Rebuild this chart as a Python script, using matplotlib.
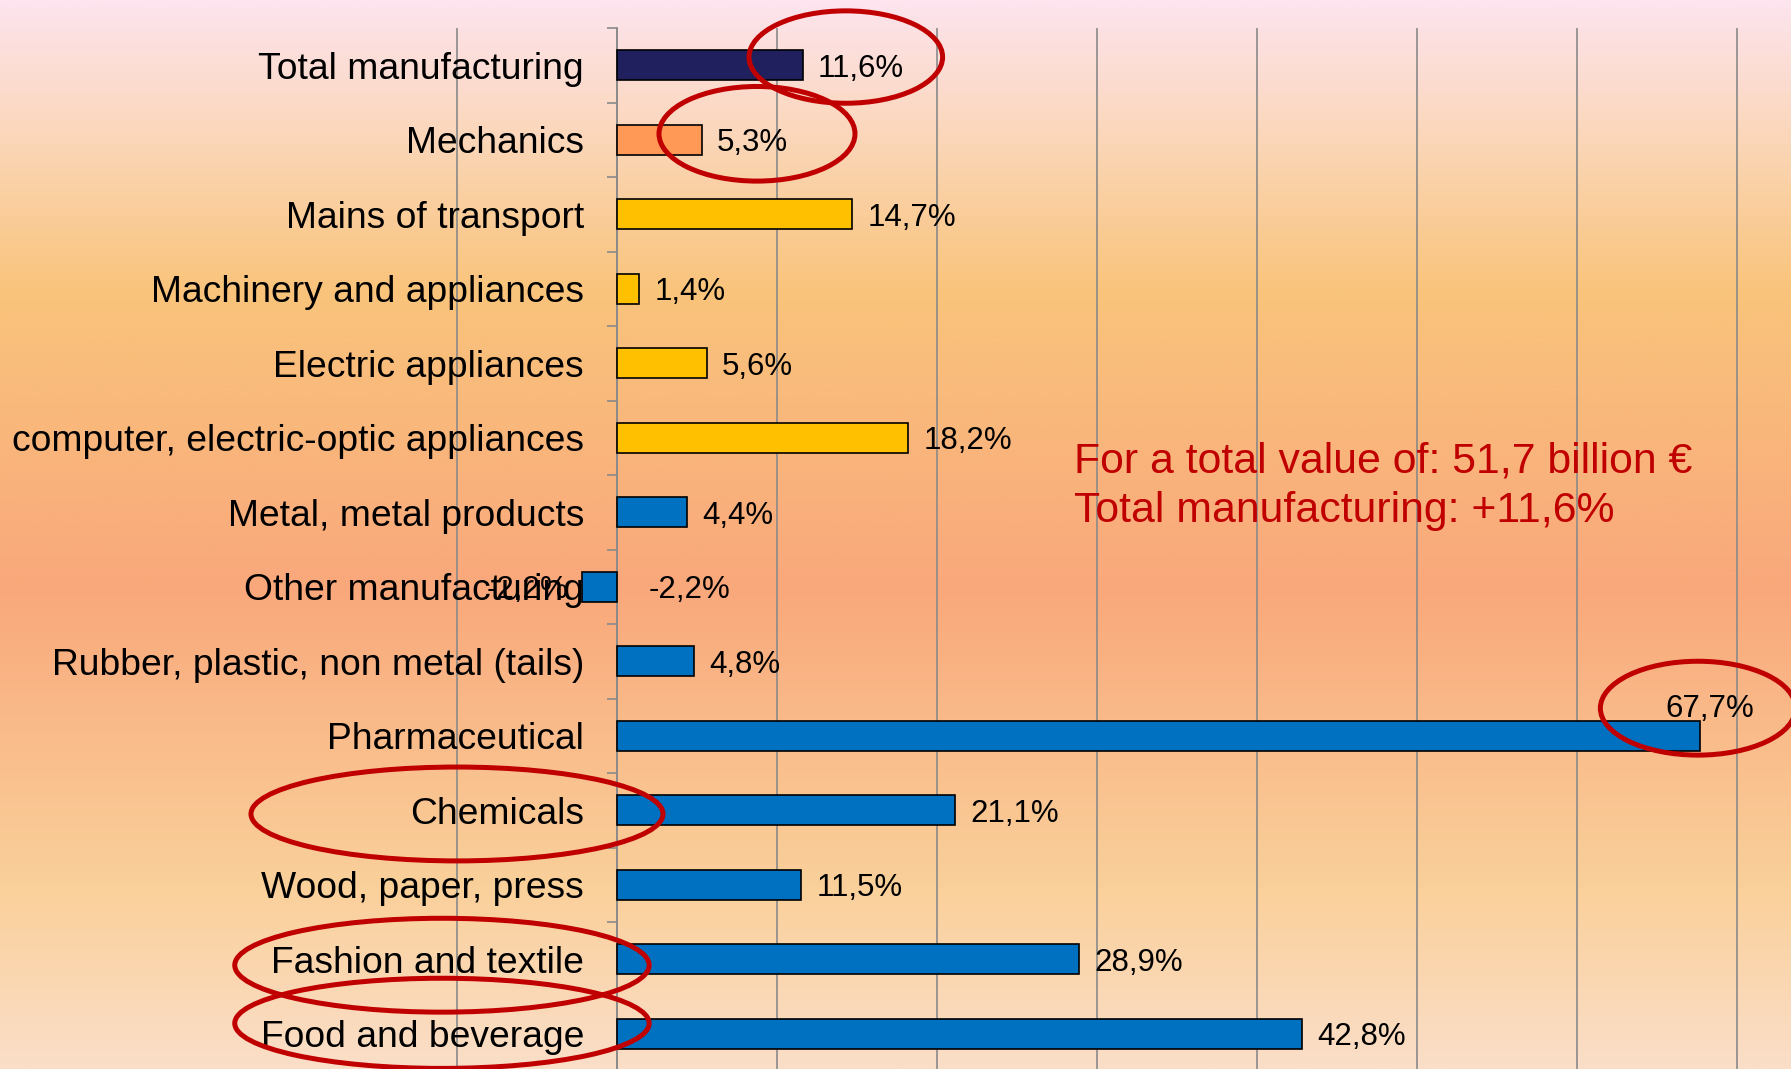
import numpy as np
import matplotlib
matplotlib.use('Agg')
import matplotlib.pyplot as plt
from matplotlib.colors import LinearSegmentedColormap
from matplotlib.patches import Ellipse
from matplotlib.ticker import FixedLocator

plt.rcParams['font.family'] = ['Liberation Sans', 'DejaVu Sans']

categories = ["Total manufacturing", "Mechanics", "Mains of transport",
              "Machinery and appliances", "Electric appliances",
              "computer, electric-optic appliances", "Metal, metal products",
              "Other manufacturing", "Rubber, plastic, non metal (tails)",
              "Pharmaceutical", "Chemicals", "Wood, paper, press",
              "Fashion and textile", "Food and beverage"]
values = [11.6, 5.3, 14.7, 1.4, 5.6, 18.2, 4.4, -2.2, 4.8, 67.7, 21.1, 11.5, 28.9, 42.8]
bar_colors = ['#20205f', '#ff9955', '#ffc000', '#ffc000', '#ffc000', '#ffc000',
              '#0070c0', '#0070c0', '#0070c0', '#0070c0', '#0070c0', '#0070c0',
              '#0070c0', '#0070c0']

note_lines = ["For a total value of: 51,7 billion €", "Total manufacturing: +11,6%"]
red = '#c00000'
grid_gray = '#8a8a8a'

fig = plt.figure(figsize=(17.91, 10.69), dpi=100)

# background gradient (pink -> orange -> salmon -> peach)
bg = fig.add_axes([0, 0, 1, 1], zorder=-10)
cmap = LinearSegmentedColormap.from_list('bg', [
    (0.0, '#fde4ee'), (0.13, '#fbd6b8'), (0.27, '#f9c47b'),
    (0.55, '#f9a87b'), (0.83, '#fad09a'), (1.0, '#fbdec8')])
bg.imshow(np.linspace(0, 1, 600)[:, None], cmap=cmap, aspect='auto',
          extent=[0, 1, 0, 1])
bg.axis('off')

H = 1069
ax = fig.add_axes([0, 1 - 1071 / H, 1, (1071 - 28) / H])
ax.set_facecolor('none')

y = np.arange(len(categories))
ax.barh(y, values, height=0.4, color=bar_colors, edgecolor='black',
        linewidth=1.2, zorder=3)

ax.set_xlim(-617 / 16, (1791 - 617) / 16)
ax.set_ylim(len(categories) - 0.5, -0.5)

ax.set_xticks(np.arange(-10, 80, 10))
ax.grid(axis='x', color=grid_gray, linewidth=1.2, zorder=0)
ax.tick_params(axis='x', length=0, labelbottom=False)

for s in ['top', 'right', 'bottom']:
    ax.spines[s].set_visible(False)
ax.spines['left'].set_position(('data', 0))
ax.spines['left'].set_color(grid_gray)
ax.spines['left'].set_linewidth(1.2)

ax.set_yticks(y)
ax.set_yticklabels(categories, fontsize=26.8)
ax.yaxis.set_minor_locator(FixedLocator(np.arange(len(categories) + 1) - 0.5))
ax.tick_params(axis='y', which='major', length=0, pad=23.8)
ax.tick_params(axis='y', which='minor', length=7, width=1.2, color=grid_gray)

# value labels
fs = 22.5
for i, v in enumerate(values):
    txt = f"{v:.1f}".replace('.', ',') + '%'
    if v < 0:
        ax.annotate(txt, (v, i), xytext=(-10, 0), textcoords='offset points',
                    ha='right', va='center_baseline', fontsize=fs, zorder=4)
        ax.annotate(txt, (0, i), xytext=(23, 0), textcoords='offset points',
                    ha='left', va='center_baseline', fontsize=fs, zorder=4)
    elif v > 60:
        ax.annotate(txt, (v, i), xytext=(-25, 22), textcoords='offset points',
                    ha='left', va='center_baseline', fontsize=fs, zorder=4)
    else:
        ax.annotate(txt, (v, i), xytext=(11, 0), textcoords='offset points',
                    ha='left', va='center_baseline', fontsize=fs, zorder=4)

# red note
ax.text(28.56, 5.46, note_lines[0], color=red, fontsize=30.8, va='baseline', zorder=2)
ax.text(28.56, 6.13, note_lines[1], color=red, fontsize=30.8, va='baseline', zorder=2)

# red highlight ellipses (x in %, y in category units)
ellipses = [(14.3, -0.11, 12.1, 1.24), (8.75, 0.92, 12.25, 1.27),
            (67.56, 8.63, 12.2, 1.26), (-10.0, 10.05, 25.75, 1.26),
            (-10.94, 12.08, 25.9, 1.26), (-10.94, 12.86, 25.9, 1.21)]
for cx, cy, w, h in ellipses:
    ax.add_patch(Ellipse((cx, cy), w, h, fill=False, edgecolor='#c00000',
                         linewidth=3.6, zorder=5, clip_on=False))

fig.savefig('out.png', dpi=100)
